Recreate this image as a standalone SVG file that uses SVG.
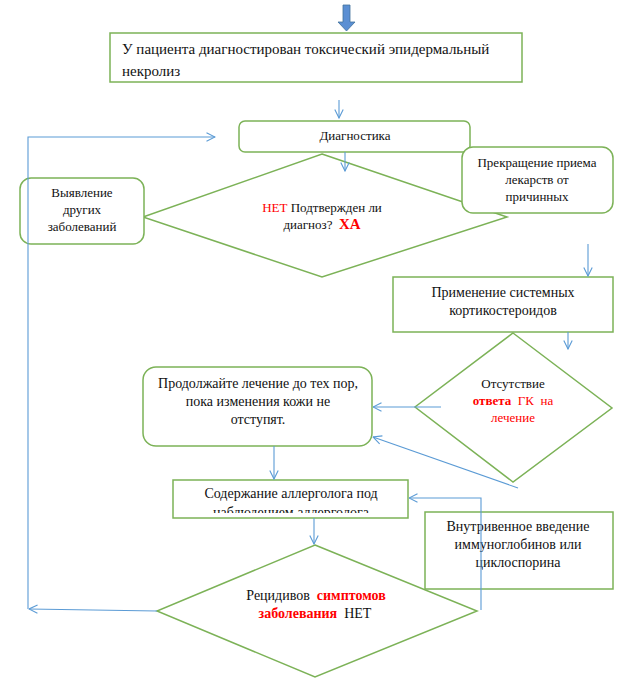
<svg xmlns="http://www.w3.org/2000/svg" width="637" height="678" viewBox="0 0 637 678">
<defs>
<style>
.n{fill:#fff;stroke:#7CB257;stroke-width:1.5}
.c{fill:none;stroke:#5B9BD5;stroke-width:1.1}
text{font-family:"Liberation Serif","Times New Roman",serif;fill:#111}
.t13{font-size:13px}
.t14{font-size:14px}
.t15{font-size:15px}
.r{fill:#FF0000}
.b{font-weight:bold}
.p{white-space:pre}
</style>
<marker id="ah" viewBox="0 0 10 10" refX="9.5" refY="5" markerWidth="10" markerHeight="10" markerUnits="userSpaceOnUse" orient="auto">
<path d="M1,0.8 L9.5,5 L1,9.2" fill="none" stroke="#5B9BD5" stroke-width="1.1"/>
</marker>
<clipPath id="clipS"><rect x="174" y="481" width="233" height="32"/></clipPath>
</defs>
<rect width="637" height="678" fill="#fff"/>

<g id="start-arrow">
<path d="M343,5 L350,5 L350,22 L355,22 L346.5,31 L338,22 L343,22 Z" fill="#5B8FD3" stroke="#41719C" stroke-width="0.8"/>
</g>

<g id="node-diagnosed">
<rect class="n" x="110" y="33" width="412" height="49"/>
<text class="t15" x="122" y="54">У пациента диагностирован токсический эпидермальный</text>
<text class="t15" x="122" y="76">некролиз</text>
</g>

<g id="node-decision1">
<polygon class="n" points="322,154 507,217 322,277 143,217"/>
<text class="t13" text-anchor="middle" x="322" y="212"><tspan class="r">НЕТ</tspan> Подтвержден ли</text>
<text class="t13 p" text-anchor="middle" x="322" y="229" xml:space="preserve">диагноз?  <tspan class="r b" font-size="15">ХА</tspan></text>
</g>

<g id="node-diagnostika">
<rect class="n" x="239" y="121" width="231" height="31" rx="6"/>
<text class="t13" text-anchor="middle" x="355" y="140">Диагностика</text>
</g>

<g id="node-other">
<rect class="n" x="20" y="178" width="124" height="66" rx="11"/>
<text class="t13" text-anchor="middle" x="82" y="197">Выявление</text>
<text class="t13" text-anchor="middle" x="82" y="214">других</text>
<text class="t13" text-anchor="middle" x="82" y="231">заболеваний</text>
</g>

<g id="node-stop">
<rect class="n" x="462" y="147" width="151" height="66" rx="11"/>
<text class="t13" text-anchor="middle" x="537" y="167">Прекращение приема</text>
<text class="t13" text-anchor="middle" x="537" y="184">лекарств от</text>
<text class="t13" text-anchor="middle" x="537" y="201">причинных</text>
</g>

<g id="node-steroids">
<rect class="n" x="393" y="277" width="220" height="55"/>
<text class="t14" text-anchor="middle" x="503" y="297">Применение системных</text>
<text class="t14" text-anchor="middle" x="503" y="315">кортикостероидов</text>
</g>

<g id="node-decision2">
<polygon class="n" points="513,333 612,408 513,482 415,407"/>
<text class="t13" text-anchor="middle" x="513" y="388">Отсутствие</text>
<text class="t13 r p" text-anchor="middle" x="513" y="405" xml:space="preserve"><tspan class="b">ответа</tspan>  ГК  на</text>
<text class="t13 r" text-anchor="middle" x="513" y="422">лечение</text>
</g>

<g id="node-continue">
<rect class="n" x="143" y="367" width="229" height="79" rx="13"/>
<text class="t14" text-anchor="middle" x="258" y="388">Продолжайте лечение до тех пор,</text>
<text class="t14" text-anchor="middle" x="258" y="406">пока изменения кожи не</text>
<text class="t14" text-anchor="middle" x="258" y="424">отступят.</text>
</g>

<g id="node-allergist">
<rect class="n" x="173" y="480" width="235" height="38"/>
<g clip-path="url(#clipS)">
<text class="t14" text-anchor="middle" x="291" y="498">Содержание аллерголога под</text>
<text class="t14" text-anchor="middle" x="291" y="517">наблюдением аллерголога</text>
</g>
</g>

<g id="node-ivig">
<rect class="n" x="425" y="512" width="188" height="77"/>
<text class="t14" text-anchor="middle" x="518" y="531">Внутривенное введение</text>
<text class="t14" text-anchor="middle" x="518" y="549">иммуноглобинов или</text>
<text class="t14" text-anchor="middle" x="518" y="567">циклоспорина</text>
</g>

<g id="node-decision3">
<polygon class="n" points="315,545 477,611 315,677 157,611"/>
<text class="t14 p" text-anchor="middle" x="316" y="600" xml:space="preserve">Рецидивов  <tspan class="r b">симптомов</tspan></text>
<text class="t14 p" text-anchor="middle" x="315" y="618" xml:space="preserve"><tspan class="r b">заболевания</tspan>  НЕТ</text>
</g>

<g id="connectors">
<path class="c" d="M339,100 L339,118" marker-end="url(#ah)"/>
<path class="c" d="M345,152 L345,171" marker-end="url(#ah)"/>
<path class="c" d="M28,609 L28,137 L215,137" marker-end="url(#ah)"/>
<path class="c" d="M157,611 L29,609" marker-end="url(#ah)"/>
<path class="c" d="M588,244 L588,276" marker-end="url(#ah)"/>
<path class="c" d="M568,332 L568,349" marker-end="url(#ah)"/>
<path class="c" d="M441,407 L373,407" marker-end="url(#ah)"/>
<path class="c" d="M518,488 L373,437" marker-end="url(#ah)"/>
<path class="c" d="M274,446 L274,479" marker-end="url(#ah)"/>
<path class="c" d="M314,518 L314,544" marker-end="url(#ah)"/>
<path class="c" d="M481,610 L481,498 L409,498" marker-end="url(#ah)"/>
</g>
</svg>
